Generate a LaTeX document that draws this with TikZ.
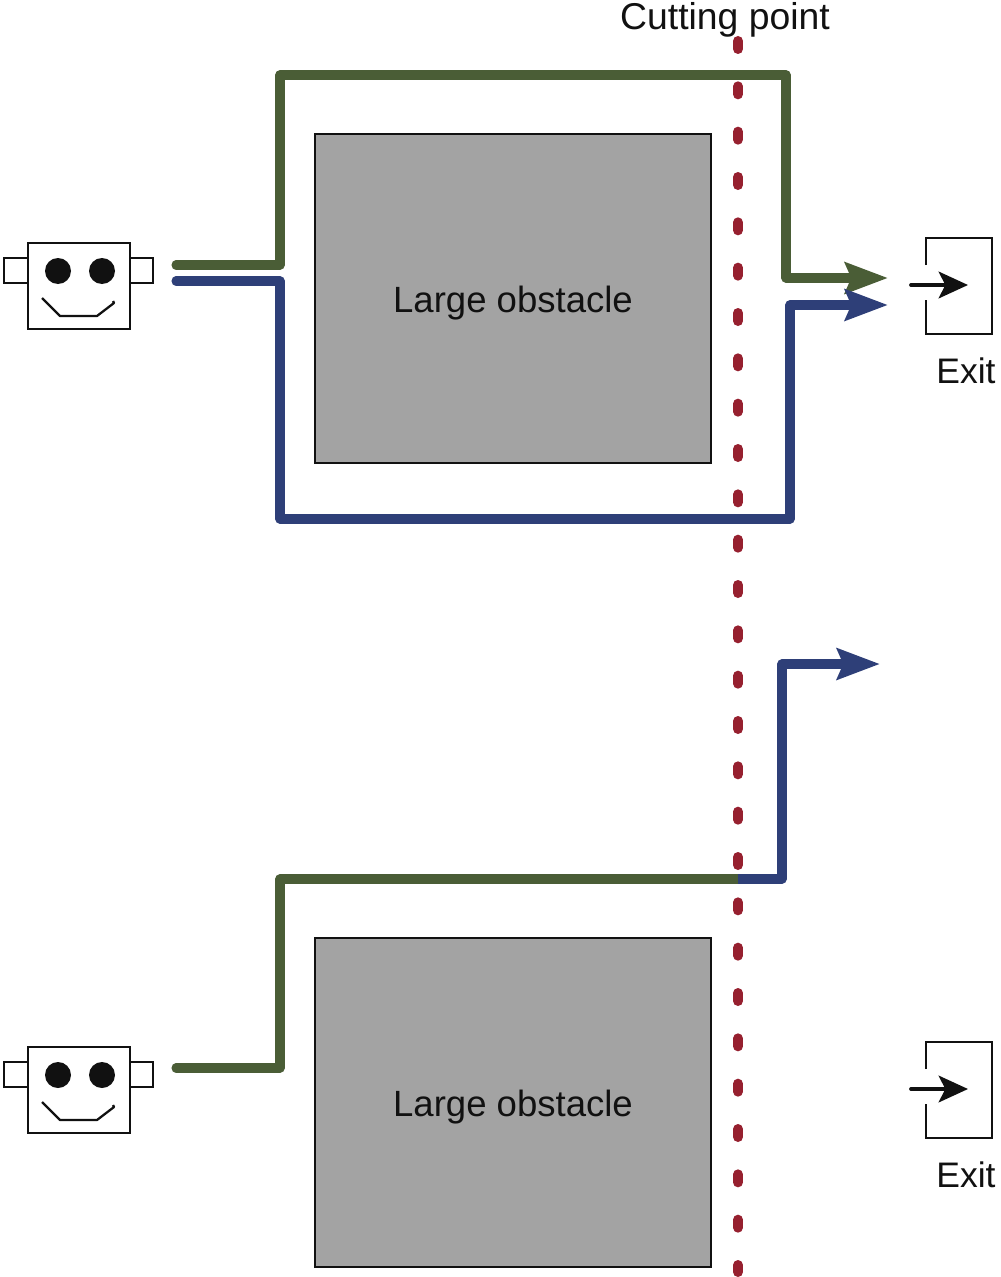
\documentclass[tikz,border=0pt]{standalone}
\usepackage{fontspec}
\setmainfont{Liberation Sans}
\usetikzlibrary{arrows.meta}
\definecolor{pathgreen}{HTML}{4A5D36}
\definecolor{pathblue}{HTML}{2E3F78}
\definecolor{cutred}{HTML}{96202F}
\definecolor{obstaclegray}{HTML}{A3A3A3}
\definecolor{inkblack}{HTML}{111111}
\tikzset{
  x=0.75pt,y=-0.75pt,
  labeltext/.style={font=\fontsize{27.4pt}{30pt}\selectfont,text=inkblack,inner sep=0pt},
  exitlabeltext/.style={font=\fontsize{26.6pt}{30pt}\selectfont,text=inkblack,inner sep=0pt},
  cutlabeltext/.style={font=\fontsize{28pt}{30pt}\selectfont,text=inkblack,inner sep=0pt},
  obstaclebox/.style={draw=inkblack,line width=1.7pt,fill=obstaclegray,minimum width=297pt,minimum height=246.75pt,inner sep=0pt,outer sep=0pt},
  routeline/.style={line width=6.8pt,line join=round,line cap=round},
  routehead/.style={-{Stealth[length=32pt,width=23pt,inset=4.5pt]}},
  thinline/.style={draw=inkblack,line width=1.7pt},
  cutline/.style={draw=cutred,line width=7.5pt,line cap=round,dash pattern=on 6pt off 28pt},
  pics/robot/.style={code={
    \draw[thinline,fill=white] (4,15) rectangle (28,40);
    \draw[thinline,fill=white] (129,15) rectangle (153,40);
    \draw[thinline,fill=white] (28,0) rectangle (130,86);
    \fill[inkblack] (58,28) circle (13);
    \fill[inkblack] (102,28) circle (13);
    \draw[thinline,line join=round] (42,55) -- (60,73) -- (97,73) -- (114,60) -- (113,58);
  }},
  pics/exitdoor/.style={code={
    \draw[thinline] (926,27) -- (926,0) -- (992,0) -- (992,96) -- (926,96) -- (926,62);
    \draw[draw=inkblack,line width=2.8pt,line cap=round,-{Stealth[length=22pt,width=20pt,inset=5pt]}] (911,47) -- (968,47);
  }}
}
\begin{document}
\begin{tikzpicture}
\useasboundingbox (0,0) rectangle (1000,1277);
% top scene
\pic at (0,243) {robot};
\pic at (0,238) {exitdoor};
\node[obstaclebox] (obA) at (513,298.5) {};
\node[labeltext] (obAlabel) at (513,303) {Large obstacle};
\node[exitlabeltext] (exitA) at (966,371) {Exit};
% bottom scene
\pic at (0,1047) {robot};
\pic at (0,1042) {exitdoor};
\node[obstaclebox] (obB) at (513,1102.5) {};
\node[labeltext] (obBlabel) at (513,1107) {Large obstacle};
\node[exitlabeltext] (exitB) at (966,1175) {Exit};
% cutting line
\node[cutlabeltext] (cutlabel) at (725,20) {Cutting point};
\coordinate (cutTop) at (738,41);
\coordinate (cutBottom) at (738,1272);
% routes
\coordinate (gA) at (176,265);
\coordinate (gB) at (888,278);
\coordinate (bA) at (176,281);
\coordinate (bB) at (888,305);
\coordinate (cA) at (176,1068);
\coordinate (cM) at (738,879);
\coordinate (cB) at (880,664);
\draw[routeline,routehead,color=pathgreen] (gA) -- (280,265) -- (280,75) -- (786,75) -- (786,278) -- (gB);
\draw[routeline,routehead,color=pathblue] (bA) -- (280,281) -- (280,519) -- (790,519) -- (790,305) -- (bB);
\draw[routeline,color=pathgreen] (cA) -- (280,1068) -- (280,879) -- (cM);
\draw[routeline,routehead,color=pathblue,line cap=butt] (cM) -- (782,879) -- (782,664) -- (cB);
\draw[cutline] (cutTop) -- (cutBottom);
\end{tikzpicture}
\end{document}
